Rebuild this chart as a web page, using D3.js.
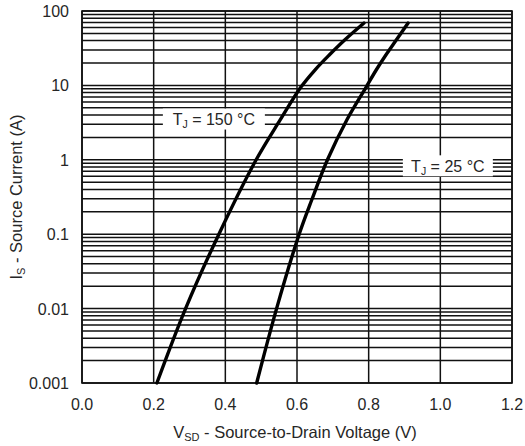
<!DOCTYPE html>
<html>
<head>
<meta charset="utf-8">
<script src="https://cdn.jsdelivr.net/npm/d3@7"></script>
<style>
  body { margin: 0; background: #fff; }
  svg text { font-family: "Liberation Sans", Arial, sans-serif; fill: #262626; }
</style>
</head>
<body>
<svg id="chart" width="525" height="446"></svg>
<script>
// source current vs. source-to-drain voltage
const vsd150 = [0.209, 0.289, 0.382, 0.486, 0.553, 0.611, 0.650, 0.690, 0.733, 0.787];
const is150  = [0.001, 0.01,  0.1,   1,     3.43,  9.5,   16.1,  25.6,  40.7,  68.9];
const vsd25  = [0.4875, 0.543, 0.606, 0.641, 0.685, 0.739, 0.793, 0.821, 0.848, 0.877, 0.910];
const is25   = [0.001,  0.01,  0.1,   0.288, 1,     3.43,  9.5,   16.1,  25.6,  40.7,  68.9];

const xTicks = [0.0, 0.2, 0.4, 0.6, 0.8, 1.0, 1.2];
const yTicks = [0.001, 0.01, 0.1, 1, 10, 100];
const yTickLabels = ['0.001', '0.01', '0.1', '1', '10', '100'];

const W = 525, H = 446;
const margin = { top: 11, right: 13, bottom: 63, left: 82 };
const iw = W - margin.left - margin.right;
const ih = H - margin.top - margin.bottom;

const svg = d3.select('#chart');
const g = svg.append('g').attr('transform', `translate(${margin.left},${margin.top})`);

const x = d3.scaleLinear().domain([0, 1.2]).range([0, iw]);
const y = d3.scaleLog().domain([0.001, 100]).range([ih, 0]);

// horizontal grid: every minor log step
const minor = [];
for (let e = -3; e <= 1; e++) {
  for (let k = 1; k <= 9; k++) minor.push(k * Math.pow(10, e));
}
minor.push(100);

g.append('g').selectAll('line')
  .data(minor)
  .join('line')
  .attr('x1', 0).attr('x2', iw)
  .attr('y1', d => y(d)).attr('y2', d => y(d))
  .attr('stroke', '#111').attr('stroke-width', 1.5);

g.append('g').selectAll('line')
  .data(xTicks)
  .join('line')
  .attr('x1', d => x(d)).attr('x2', d => x(d))
  .attr('y1', 0).attr('y2', ih)
  .attr('stroke', '#111').attr('stroke-width', 1.5);

g.append('rect')
  .attr('width', iw).attr('height', ih)
  .attr('fill', 'none').attr('stroke', '#111').attr('stroke-width', 1.6);

// curve labels with white boxes that hide the grid
function tjLabel(cx, cy, temp, bw) {
  const lg = g.append('g').attr('transform', `translate(${x(cx)},${y(cy)})`);
  lg.append('rect')
    .attr('x', -bw / 2).attr('y', -10.5).attr('width', bw).attr('height', 21)
    .attr('fill', '#fff');
  const t = lg.append('text')
    .attr('text-anchor', 'middle').attr('y', 6)
    .attr('font-size', 16);
  t.append('tspan').text('T');
  t.append('tspan').attr('font-size', 10.5).attr('dy', 3).text('J');
  t.append('tspan').attr('dy', -3).text(` = ${temp} °C`);
}
tjLabel(0.368, 3.53, 150, 102);
tjLabel(1.021, 0.83, 25, 90);

// curves
const line = d3.line()
  .x(d => x(d[0]))
  .y(d => y(d[1]))
  .curve(d3.curveCatmullRom.alpha(0.5));

[[vsd150, is150], [vsd25, is25]].forEach(([vs, is]) => {
  g.append('path')
    .datum(vs.map((v, i) => [v, is[i]]))
    .attr('d', line)
    .attr('fill', 'none')
    .attr('stroke', '#000')
    .attr('stroke-width', 3.4)
    .attr('stroke-linecap', 'round');
});

// axes labels
g.append('g').selectAll('text')
  .data(xTicks)
  .join('text')
  .attr('x', d => x(d)).attr('y', 410 - margin.top)
  .attr('text-anchor', 'middle')
  .attr('font-size', 16)
  .text(d => d3.format('.1f')(d));

g.append('g').selectAll('text')
  .data(yTicks)
  .join('text')
  .attr('x', 69 - margin.left).attr('y', d => y(d) + 6)
  .attr('text-anchor', 'end')
  .attr('font-size', 16)
  .text((d, i) => yTickLabels[i]);

const xt = svg.append('text')
  .attr('x', 295).attr('y', 438)
  .attr('text-anchor', 'middle').attr('font-size', 16.5);
xt.append('tspan').text('V');
xt.append('tspan').attr('font-size', 11).attr('dy', 3).text('SD');
xt.append('tspan').attr('dy', -3).text(' - Source-to-Drain Voltage (V)');

const yt = svg.append('text')
  .attr('transform', `translate(21.5,${margin.top + ih / 2}) rotate(-90)`)
  .attr('text-anchor', 'middle').attr('font-size', 16.5);
yt.append('tspan').text('I');
yt.append('tspan').attr('font-size', 11).attr('dy', 3).text('S');
yt.append('tspan').attr('dy', -3).text(' - Source Current (A)');
</script>
</body>
</html>
